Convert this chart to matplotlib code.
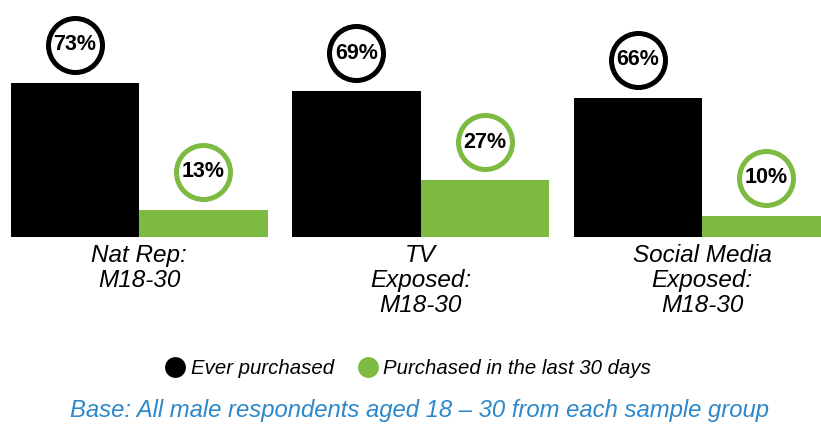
import matplotlib
matplotlib.use("Agg")
import matplotlib.pyplot as plt
import matplotlib.transforms as mtransforms
from matplotlib.lines import Line2D
import numpy as np

plt.rcParams['font.family'] = ['Liberation Sans', 'DejaVu Sans']

categories = ["Nat Rep:\nM18-30", "TV\nExposed:\nM18-30", "Social Media\nExposed:\nM18-30"]
series_names = ["Ever purchased", "Purchased in the last 30 days"]
ever_purchased = [73, 69, 66]
last_30_days = [13, 27, 10]
value_labels_ever = ["73%", "69%", "66%"]
value_labels_30 = ["13%", "27%", "10%"]

BLACK = "#000000"
GREEN = "#7CBA42"
BLUE = "#2C88CB"

W, H, DPI = 821, 426, 100
fig = plt.figure(figsize=(W / DPI, H / DPI), dpi=DPI)

# axes spans the full width; baseline sits 237 px from the top
base_px = 237
ax = fig.add_axes([0, (H - base_px) / H, 1, base_px / H])
px_per_pct = 2.11
ax.set_ylim(0, base_px / px_per_pct)

group_step_px = 281.5
bar_w = 128.5 / group_step_px
first_split_px = 139
ax.set_xlim(-first_split_px / group_step_px, (W - first_split_px) / group_step_px)

x = np.arange(len(categories))
ax.bar(x - bar_w / 2, ever_purchased, width=bar_w, color=BLACK, linewidth=0)
ax.bar(x + bar_w / 2, last_30_days, width=bar_w, color=GREEN, linewidth=0)

# ring labels floating above each bar
lift = mtransforms.offset_copy(ax.transData, fig=fig, x=0, y=38, units='dots')
ring_d_pt = 54 * 72 / DPI
for xs, vals, labels, col in [
    (x - bar_w / 2, ever_purchased, value_labels_ever, BLACK),
    (x + bar_w / 2, last_30_days, value_labels_30, GREEN),
]:
    ax.scatter(xs, vals, s=ring_d_pt ** 2, marker='o', facecolor='white',
               edgecolor=col, linewidth=5 * 72 / DPI, transform=lift,
               clip_on=False, zorder=4)
    for xi, v, lab in zip(xs, vals, labels):
        ax.text(xi, v, lab, transform=lift, ha='center', va='center',
                fontsize=15.5, fontweight='bold', color='black', zorder=5,
                clip_on=False)

# category labels under each pair of bars
drop = mtransforms.offset_copy(ax.transData, fig=fig, x=0, y=-7, units='dots')
for xi, cat in zip(x, categories):
    ax.text(xi, 0, cat, transform=drop, ha='center', va='top', fontsize=17.5,
            fontstyle='italic', linespacing=1.1, clip_on=False)

ax.set_axis_off()

handles = [
    Line2D([], [], linestyle='none', marker='o', markersize=15,
           markerfacecolor=BLACK, markeredgewidth=0),
    Line2D([], [], linestyle='none', marker='o', markersize=15,
           markerfacecolor=GREEN, markeredgewidth=0),
]
fig.legend(handles, series_names, loc='center', bbox_to_anchor=(408 / W, 1 - 369 / H),
           ncol=2, frameon=False, handlelength=1.0, handletextpad=0.25,
           columnspacing=1.15, prop={'size': 14.7, 'style': 'italic'},
           borderaxespad=0, borderpad=0)

fig.text(420 / W, 1 - 411 / H,
         "Base: All male respondents aged 18 \u2013 30 from each sample group",
         ha='center', va='center', fontsize=17.2, fontstyle='italic', color=BLUE)

fig.savefig("out.png", dpi=DPI, facecolor='white')
